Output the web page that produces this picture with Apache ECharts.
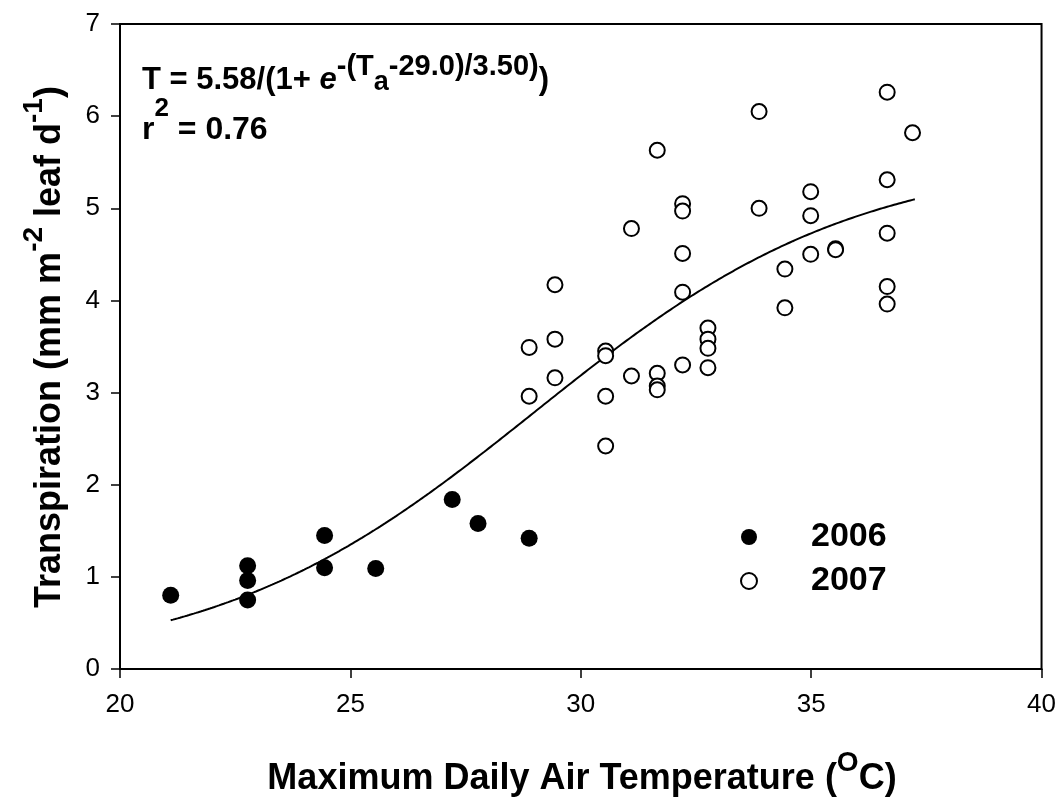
<!DOCTYPE html>
<html>
<head>
<meta charset="utf-8">
<script src="https://cdn.jsdelivr.net/npm/echarts@6/dist/echarts.min.js"></script>
<style>
  html, body { margin: 0; padding: 0; background: #fff; }
  #chart { width: 1059px; height: 798px; }
</style>
</head>
<body>
<div id="chart"></div>
<script>
// 2006 season: maximum daily air temperature (°C) vs transpiration
const temp2006   = [21.10, 22.77, 22.77, 22.77, 24.44, 24.44, 25.55, 27.21, 27.77, 28.88];
const transp2006 = [0.80, 1.12, 0.96, 0.75, 1.45, 1.10, 1.09, 1.84, 1.58, 1.42];

// 2007 season
const temp2007 = [
  28.88, 28.88,
  29.44, 29.44, 29.44,
  30.54, 30.54, 30.54, 30.54,
  31.10, 31.10,
  31.66, 31.66, 31.66, 31.66,
  32.21, 32.21, 32.21, 32.21, 32.21,
  32.76, 32.76, 32.76, 32.76,
  33.87, 33.87,
  34.43, 34.43,
  34.99, 34.99, 34.99,
  35.53, 35.53,
  36.65, 36.65, 36.65, 36.65, 36.65,
  37.20
];
const transp2007 = [
  3.49, 2.96,
  4.17, 3.58, 3.16,
  3.45, 3.40, 2.96, 2.42,
  4.78, 3.18,
  5.63, 3.21, 3.07, 3.03,
  5.05, 4.97, 4.51, 4.09, 3.30,
  3.70, 3.58, 3.48, 3.27,
  6.05, 5.00,
  4.34, 3.92,
  5.18, 4.92, 4.50,
  4.56, 4.55,
  6.26, 5.31, 4.73, 4.15, 3.96,
  5.82
];

// Logistic fit: T = a / (1 + exp(-(Ta - x0) / b))
const fitA = 5.58, fitX0 = 29.0, fitB = 3.50;
const fitFrom = 21.1, fitTo = 37.25;

const xTicks = [20, 25, 30, 35, 40];
const yTicks = [0, 1, 2, 3, 4, 5, 6, 7];
const seriesNames = ['2006', '2007'];

const pairs = (xs, ys) => xs.map((x, i) => [x, ys[i]]);
const fitLine = [];
for (let k = 0; ; k++) {
  const t = Math.min(fitFrom + k * 0.05, fitTo);
  fitLine.push([t, fitA / (1 + Math.exp(-(t - fitX0) / fitB))]);
  if (t >= fitTo) break;
}

const FONT = "'Liberation Sans', Arial, Helvetica, sans-serif";
const black = '#000';

const chart = echarts.init(document.getElementById('chart'), null, { renderer: 'canvas' });

chart.setOption({
  backgroundColor: '#fff',
  animation: false,
  grid: {
    left: 120, right: 15, top: 24, bottom: 129,
    show: true, borderColor: black, borderWidth: 2, backgroundColor: 'transparent'
  },
  xAxis: {
    type: 'value',
    min: xTicks[0], max: xTicks[xTicks.length - 1], interval: xTicks[1] - xTicks[0],
    axisLine: { show: true, onZero: false, lineStyle: { color: black, width: 2 } },
    axisTick: { show: true, inside: false, length: 9, lineStyle: { color: black, width: 1.5 } },
    splitLine: { show: false },
    axisLabel: { color: black, fontFamily: FONT, fontSize: 26, margin: 23 }
  },
  yAxis: {
    type: 'value',
    min: yTicks[0], max: yTicks[yTicks.length - 1], interval: yTicks[1] - yTicks[0],
    axisLine: { show: true, onZero: false, lineStyle: { color: black, width: 2 } },
    axisTick: { show: true, inside: false, length: 9, lineStyle: { color: black, width: 1.5 } },
    splitLine: { show: false },
    axisLabel: { color: black, fontFamily: FONT, fontSize: 26, margin: 20 }
  },
  legend: {
    orient: 'vertical',
    left: 735, top: 515,
    itemWidth: 16, itemHeight: 16, itemGap: 10,
    icon: 'circle',
    data: seriesNames,
    textStyle: {
      color: black, fontFamily: FONT, fontSize: 34, fontWeight: 'bold', lineHeight: 34,
      padding: [0, 0, 0, 49]
    }
  },
  series: [
    {
      name: 'fit',
      type: 'line',
      data: fitLine,
      showSymbol: false,
      smooth: false,
      lineStyle: { color: black, width: 2 },
      z: 1,
      silent: true
    },
    {
      name: seriesNames[0],
      type: 'scatter',
      data: pairs(temp2006, transp2006),
      symbol: 'circle',
      symbolSize: 17,
      itemStyle: { color: black, opacity: 1 },
      z: 3
    },
    {
      name: seriesNames[1],
      type: 'scatter',
      data: pairs(temp2007, transp2007),
      symbol: 'circle',
      symbolSize: 15,
      itemStyle: { color: '#fff', borderColor: black, borderWidth: 2, opacity: 1 },
      z: 3
    }
  ],
  graphic: [
    {
      // fitted equation
      type: 'text',
      x: 142, y: 46,
      style: {
        text: '{m|T = 5.58/(1+ }{e|e}{s|-(T}{b|a}{s|-29.0)/3.50)}{m|)}',
        fill: black,
        rich: {
          m: { fontFamily: FONT, fontSize: 31, fontWeight: 'bold', lineHeight: 50, verticalAlign: 'bottom' },
          e: { fontFamily: FONT, fontSize: 31, fontWeight: 'bold', fontStyle: 'italic', lineHeight: 50, verticalAlign: 'bottom' },
          s: { fontFamily: FONT, fontSize: 29, fontWeight: 'bold', lineHeight: 30, verticalAlign: 'top', padding: [6, 0, 0, 0] },
          b: { fontFamily: FONT, fontSize: 27, fontWeight: 'bold', lineHeight: 48, verticalAlign: 'bottom' }
        }
      }
    },
    {
      type: 'text',
      x: 142, y: 96,
      style: {
        text: '{m|r}{s|2}{m| = 0.76}',
        fill: black,
        rich: {
          m: { fontFamily: FONT, fontSize: 32, fontWeight: 'bold', lineHeight: 50, verticalAlign: 'bottom' },
          s: { fontFamily: FONT, fontSize: 26, fontWeight: 'bold', lineHeight: 28, verticalAlign: 'top' }
        }
      }
    },
    {
      // y-axis title
      type: 'text',
      x: 44, y: 347,
      rotation: Math.PI / 2,
      style: {
        text: '{m|Transpiration (mm m}{s|-2}{m| leaf d}{s|-1}{m|)}',
        fill: black,
        align: 'center', verticalAlign: 'middle',
        rich: {
          m: { fontFamily: FONT, fontSize: 36, fontWeight: 'bold', lineHeight: 48, verticalAlign: 'bottom' },
          s: { fontFamily: FONT, fontSize: 28, fontWeight: 'bold', lineHeight: 28, verticalAlign: 'top' }
        }
      }
    },
    {
      // x-axis title
      type: 'text',
      x: 582, y: 773,
      style: {
        text: '{m|Maximum Daily Air Temperature (}{s|O}{m|C)}',
        fill: black,
        align: 'center', verticalAlign: 'middle',
        rich: {
          m: { fontFamily: FONT, fontSize: 36, fontWeight: 'bold', lineHeight: 48, verticalAlign: 'bottom' },
          s: { fontFamily: FONT, fontSize: 28, fontWeight: 'bold', lineHeight: 28, verticalAlign: 'top' }
        }
      }
    }
  ]
});
</script>
</body>
</html>
